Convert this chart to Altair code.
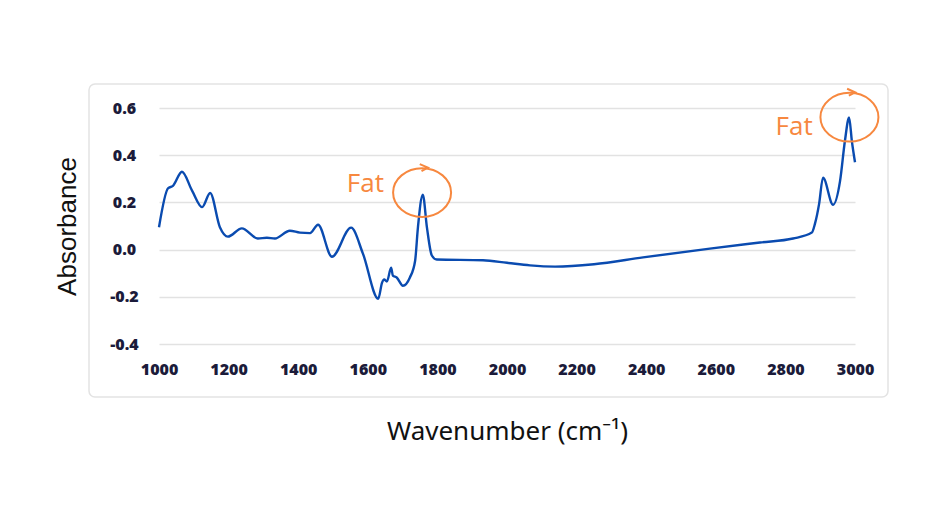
import altair as alt
import pandas as pd

# Spectrum values
wavenumber = [1000, 1026, 1040, 1066, 1095, 1124, 1147, 1175, 1198, 1238, 1284, 1310, 1333,
              1376, 1405, 1434, 1457, 1497, 1552, 1586, 1630, 1641, 1647, 1655, 1667, 1672,
              1683, 1701, 1721, 1736, 1744, 1758, 1770, 1784, 1798, 1931, 2000, 2066, 2138,
              2250, 2391, 2583, 2727, 2822, 2876, 2885, 2897, 2908, 2937, 2957, 2971, 2983,
              2991, 3000]
absorbance = [0.095, 0.26, 0.27, 0.33, 0.25, 0.18, 0.24, 0.095, 0.055, 0.09, 0.047, 0.05, 0.047,
              0.08, 0.072, 0.07, 0.105, -0.03, 0.093, -0.017, -0.208, -0.14, -0.127, -0.135,
              -0.077, -0.11, -0.118, -0.153, -0.118, -0.047, 0.093, 0.233, 0.093, -0.025,
              -0.042, -0.045, -0.056, -0.067, -0.072, -0.062, -0.033, 0.004, 0.03, 0.047,
              0.072, 0.11, 0.195, 0.305, 0.19, 0.29, 0.46, 0.56, 0.46, 0.37]

x_ticks = [1000, 1200, 1400, 1600, 1800, 2000, 2200, 2400, 2600, 2800, 3000]
y_ticks = [-0.4, -0.2, 0.0, 0.2, 0.4, 0.6]

# Annotations
note_text = ["Fat", "Fat"]
note_text_x = [1593, 2825]
note_text_y = [0.28, 0.521]
circle_x = [1756, 2984]
circle_y = [0.2415, 0.561]

df = pd.DataFrame({"w": wavenumber, "a": absorbance})
notes = pd.DataFrame({"t": note_text, "x": note_text_x, "y": note_text_y})
circles = pd.DataFrame({"x": circle_x, "y": circle_y})

W, H = 696, 236
ORANGE = "#f7883f"
LABEL = "#1b1b3a"

xs = alt.Scale(domain=[1000, 3000], nice=False, zero=False)
ys = alt.Scale(domain=[-0.4, 0.6], nice=False, zero=False)

k = 0.84
c = 0.5523 * k
ellipse = (f"M 1,0 C 1,{c} 0.5523,{k} 0,{k} C -0.5523,{k} -1,{c} -1,0 "
           f"C -1,-{c} -0.5523,-{k} 0,-{k} C 0.5523,-{k} 1,-{c} 1,0 "
           f"M -0.08,-0.98 L 0.2,-0.86 L -0.02,-0.74")

box = alt.Chart(pd.DataFrame({"d": [0]})).mark_rect(
    fill="transparent", stroke="#e3e3e3", strokeWidth=1.5, cornerRadius=6
).encode(x=alt.value(-70), x2=alt.value(729), y=alt.value(-24), y2=alt.value(289))

line = alt.Chart(df).mark_line(
    color="#0a4bb0", strokeWidth=2.4, interpolate="monotone"
).encode(
    x=alt.X("w:Q", scale=xs, axis=alt.Axis(
        values=x_ticks, format="d", title="Wavenumber (cm⁻¹)",
        grid=False, domain=False, ticks=False, tickSize=0, labelFlush=False,
        labelFont="Open Sans", labelFontWeight=800, labelFontSize=16,
        labelColor=LABEL, labelPadding=17,
        titleFont="Noto Sans", titleFontWeight="normal", titleFontSize=26,
        titleColor="#111111", titleBaseline="alphabetic", titleY=95)),
    y=alt.Y("a:Q", scale=ys, axis=alt.Axis(
        values=y_ticks, title="Absorbance",
        labelExpr="replace(format(datum.value, '.1f'), '−', '-')",
        grid=True, gridColor="#e2e2e2", gridWidth=1.5,
        domain=False, ticks=False, tickSize=0,
        labelFont="Open Sans", labelFontWeight=800, labelFontSize=16,
        labelColor=LABEL, labelPadding=35, labelAlign="center", labelBaseline="middle",
        titleFont="Liberation Sans", titleFontWeight="normal", titleFontSize=26,
        titleColor="#111111", titleBaseline="alphabetic", titleX=-84, titleY=118)),
)

text = alt.Chart(notes).mark_text(
    font="Open Sans", fontSize=26, color=ORANGE, align="center", baseline="middle"
).encode(x=alt.X("x:Q", scale=xs), y=alt.Y("y:Q", scale=ys), text="t:N")

rings = alt.Chart(circles).mark_point(
    shape=ellipse, size=3364, filled=False, stroke=ORANGE, strokeWidth=2, opacity=1
).encode(x=alt.X("x:Q", scale=xs), y=alt.Y("y:Q", scale=ys))

chart = alt.layer(box, line, text, rings).properties(
    width=W, height=H,
    autosize=alt.AutoSizeParams(type="none"),
    padding={"left": 151, "top": 100, "right": 76, "bottom": 170},
    background="white",
).configure_view(stroke=None)

chart.save("out.html", embed_options={"renderer": "svg", "actions": False})
